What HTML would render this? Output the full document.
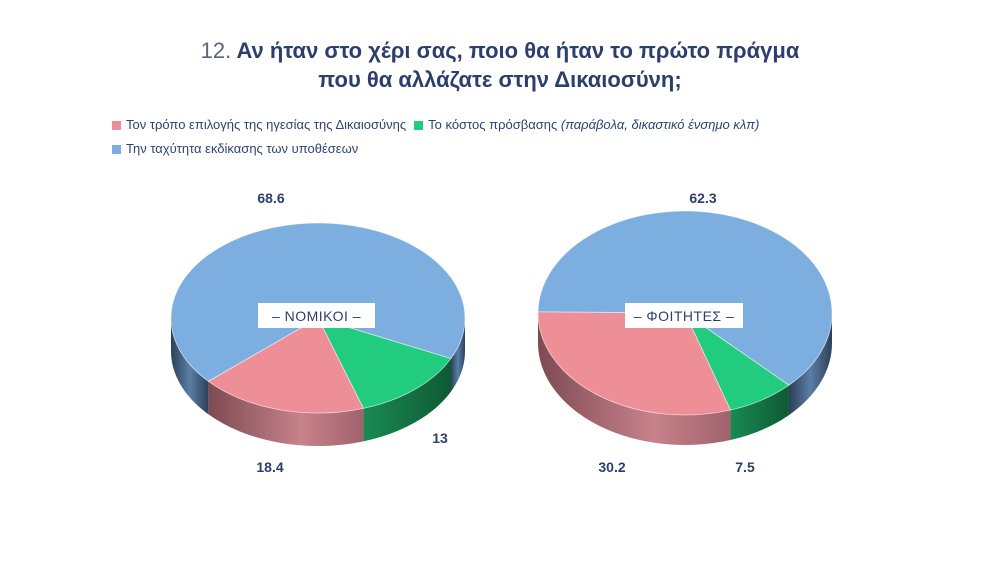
<!DOCTYPE html>
<html><head><meta charset="utf-8">
<style>
html,body{margin:0;padding:0;background:#fff;}
body{width:1000px;height:563px;overflow:hidden;position:relative;font-family:"Liberation Sans","DejaVu Sans",sans-serif;}
.title{position:absolute;left:0;width:1000px;top:36px;text-align:center;color:#2c3f6c;font-size:22px;font-weight:bold;line-height:29px;}
.title .num{font-weight:normal;color:#5a6583;}
.legend{position:absolute;left:112px;top:113px;color:#2f4470;font-size:13px;line-height:24px;}
.legend span.sw{display:inline-block;width:9px;height:9px;margin-right:5px;vertical-align:-1px;}
.legend .item{margin-right:8px;}
</style></head>
<body>
<div class="title"><span class="num">12.</span> Αν ήταν στο χέρι σας, ποιο θα ήταν το πρώτο πράγμα<br>που θα αλλάζατε στην Δικαιοσύνη;</div>
<div class="legend">
<div><span class="item"><span class="sw" style="background:#ee8f98"></span>Τον τρόπο επιλογής της ηγεσίας της Δικαιοσύνης</span><span class="item"><span class="sw" style="background:#21cc7f"></span>Το κόστος πρόσβασης <i>(παράβολα, δικαστικό ένσημο κλπ)</i></span></div>
<div><span class="item"><span class="sw" style="background:#7daee0"></span>Την ταχύτητα εκδίκασης των υποθέσεων</span></div>
</div>
<svg id="chart" width="1000" height="563" style="position:absolute;left:0;top:0">
<defs>
<linearGradient id="gb" x1="0" x2="1"><stop offset="0" stop-color="#2c4058"/><stop offset="0.5" stop-color="#5a7ea6"/><stop offset="1" stop-color="#2c4058"/></linearGradient>
<linearGradient id="gp" x1="0" x2="1"><stop offset="0" stop-color="#7e4a52"/><stop offset="0.6" stop-color="#c7828b"/><stop offset="1" stop-color="#a0626b"/></linearGradient>
<linearGradient id="gg" x1="0" x2="1"><stop offset="0" stop-color="#1a8a52"/><stop offset="1" stop-color="#0e5a34"/></linearGradient>
</defs>
</svg>
<script>
const categories = ["green","pink","blue"];
const groups = ["ΝΟΜΙΚΟΙ","ΦΟΙΤΗΤΕΣ"];
const valuesLawyers = [13, 18.4, 68.6];
const valuesStudents = [7.5, 30.2, 62.3];
const topColors = {green:"#21cc7f", pink:"#ee8f98", blue:"#7daee0"};
const sideColors = {green:"url(#gg)", pink:"url(#gp)", blue:"url(#gb)"};
const svg = document.getElementById('chart');
const NS = "http://www.w3.org/2000/svg";
function mk(tag, attrs){const e=document.createElementNS(NS,tag);for(const k in attrs)e.setAttribute(k,attrs[k]);svg.appendChild(e);return e;}
function pt(p,t){return [p.cx+p.rx*Math.cos(t*Math.PI/180), p.cy+p.ry*Math.sin(t*Math.PI/180)];}
function drawPie(p, vals, name, labelPos){
  const total = vals.reduce((a,b)=>a+b,0);
  let start = 72 - vals[0]/total*360;
  const segs=[];
  let a=start;
  vals.forEach((v,i)=>{const sw=v/total*360;segs.push({cat:categories[i],a0:a,a1:a+sw,v});a+=sw;});
  segs.forEach(s=>{
    [[0,180],[360,540],[-360,-180]].forEach(([f0,f1])=>{
      const lo=Math.max(s.a0,f0), hi=Math.min(s.a1,f1);
      if(hi<=lo) return;
      const A=pt(p,lo), B=pt(p,hi);
      const d=`M${A[0]},${A[1]} A${p.rx},${p.ry} 0 0 1 ${B[0]},${B[1]} L${B[0]},${B[1]+p.depth} A${p.rx},${p.ry} 0 0 0 ${A[0]},${A[1]+p.depth} Z`;
      const e=mk('path',{d:d,fill:sideColors[s.cat]});
      
      
    });
  });
  segs.forEach(s=>{
    const A=pt(p,s.a0), B=pt(p,s.a1);
    const large=(s.a1-s.a0)>180?1:0;
    const d=`M${p.cx},${p.cy} L${A[0]},${A[1]} A${p.rx},${p.ry} 0 ${large} 1 ${B[0]},${B[1]} Z`;
    const e=mk('path',{d:d,fill:topColors[s.cat],stroke:"#ffffff","stroke-width":"0.8","stroke-opacity":"0.6"});
    
    
  });
  segs.forEach((s,i)=>{
    const t=mk('text',{x:labelPos[i][0],y:labelPos[i][1],"text-anchor":"middle","font-size":"14","font-weight":"bold",fill:"#2c3f6c"});
    t.textContent=String(s.v);
    
    
  });
}
drawPie({cx:318,cy:318,rx:147,ry:95,depth:33}, valuesLawyers, 'lawyers', [[440,443],[270,472],[271,203]]);
drawPie({cx:685,cy:313,rx:147,ry:102,depth:30}, valuesStudents, 'students', [[745,472],[612,472],[703,203]]);
function box(x,y,w,label,name){
  const r=mk('rect',{x:x,y:y,width:w,height:25,fill:"#ffffff"});
  
  
  const t=mk('text',{x:x+w/2,y:y+18,"text-anchor":"middle","font-size":"14",fill:"#2c3f6c","letter-spacing":"0.5"});
  t.textContent="– "+label+" –";
  
  
}
box(258,303,117,groups[0],'lawyers');
box(625,303,118,groups[1],'students');
</script>
</body></html>
